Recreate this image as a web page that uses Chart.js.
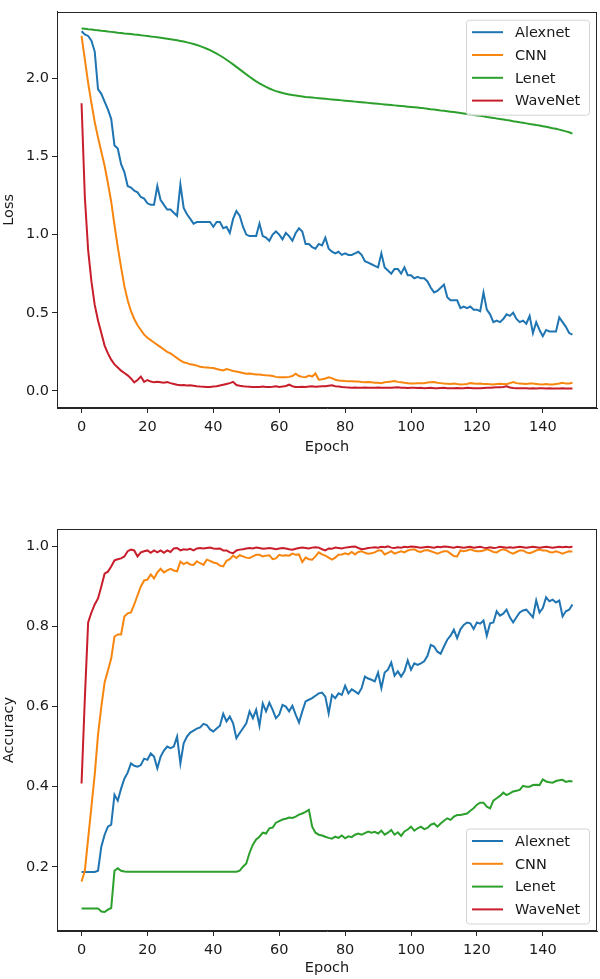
<!DOCTYPE html>
<html>
<head>
<meta charset="utf-8">
<script src="https://cdn.jsdelivr.net/npm/chart.js@4.4.1/dist/chart.umd.min.js"></script>
<style>
  body { margin: 0; background: #fff; }
  #wrap { position: relative; width: 600px; height: 979px; }
  canvas { position: absolute; left: 0; }
  #lossChart { top: 0; }
  #accChart { top: 470px; }
</style>
</head>
<body>
<div id="wrap">
  <canvas id="lossChart" width="600" height="470"></canvas>
  <canvas id="accChart" width="600" height="509"></canvas>
</div>
<script>
const modelNames = ['Alexnet', 'CNN', 'Lenet', 'WaveNet'];
const modelColors = ['#1f74b2', '#f8860e', '#2ca02c', '#c81d2b'];
const epochs = Array.from({ length: 150 }, (_, i) => i);
const epochTicks = [0, 20, 40, 60, 80, 100, 120, 140];
const lossTicks = [0.0, 0.5, 1.0, 1.5, 2.0];
const accTicks = [0.2, 0.4, 0.6, 0.8, 1.0];

const lossAlexnet = [
  2.30, 2.28, 2.27, 2.24, 2.17, 1.93, 1.90, 1.85, 1.80, 1.74,
  1.57, 1.55, 1.45, 1.40, 1.31, 1.30, 1.28, 1.27, 1.24, 1.23,
  1.20, 1.19, 1.19, 1.31, 1.22, 1.19, 1.16, 1.16, 1.14, 1.12,
  1.32, 1.17, 1.13, 1.10, 1.07, 1.08, 1.08, 1.08, 1.08, 1.08,
  1.05, 1.08, 1.08, 1.04, 1.05, 1.01, 1.10, 1.15, 1.12, 1.05,
  1.00, 0.99, 0.99, 0.99, 1.07, 0.99, 0.98, 0.96, 1.00, 1.02,
  1.00, 0.97, 1.01, 0.99, 0.96, 1.01, 1.04, 1.02, 0.94, 0.94,
  0.92, 0.91, 0.94, 0.93, 0.98, 0.91, 0.89, 0.88, 0.89, 0.87,
  0.88, 0.87, 0.87, 0.88, 0.89, 0.87, 0.83, 0.82, 0.81, 0.80,
  0.79, 0.88, 0.79, 0.77, 0.75, 0.78, 0.78, 0.75, 0.79, 0.74,
  0.74, 0.72, 0.73, 0.72, 0.72, 0.70, 0.66, 0.63, 0.64, 0.66,
  0.68, 0.60, 0.58, 0.58, 0.58, 0.53, 0.54, 0.53, 0.54, 0.52,
  0.52, 0.51, 0.63, 0.52, 0.49, 0.44, 0.45, 0.44, 0.46, 0.49,
  0.48, 0.50, 0.46, 0.44, 0.45, 0.43, 0.48, 0.37, 0.44, 0.39,
  0.35, 0.39, 0.38, 0.38, 0.38, 0.47, 0.44, 0.41, 0.37, 0.36
];
const lossCnn = [
  2.27, 2.12, 1.97, 1.84, 1.72, 1.62, 1.53, 1.44, 1.33, 1.21,
  1.06, 0.92, 0.79, 0.67, 0.58, 0.51, 0.46, 0.42, 0.39, 0.36,
  0.34, 0.325, 0.31, 0.295, 0.28, 0.265, 0.25, 0.24, 0.225, 0.21,
  0.195, 0.183, 0.178, 0.17, 0.168, 0.162, 0.155, 0.152, 0.15, 0.148,
  0.147, 0.14, 0.135, 0.131, 0.14, 0.135, 0.128, 0.125, 0.12, 0.115,
  0.11, 0.112, 0.108, 0.105, 0.105, 0.102, 0.1, 0.099, 0.095, 0.09,
  0.088, 0.087, 0.088, 0.09, 0.095, 0.11, 0.095, 0.09, 0.088, 0.098,
  0.092, 0.112, 0.072, 0.075, 0.08, 0.088, 0.082, 0.072, 0.067, 0.065,
  0.063, 0.062, 0.062, 0.06, 0.061, 0.058, 0.056, 0.057, 0.055, 0.053,
  0.053, 0.05, 0.055, 0.058, 0.06, 0.063, 0.058, 0.055, 0.052, 0.05,
  0.048, 0.047, 0.05, 0.049, 0.05, 0.054, 0.056, 0.057, 0.053, 0.05,
  0.047, 0.046, 0.045, 0.047, 0.044, 0.042, 0.043, 0.045, 0.05, 0.048,
  0.046, 0.047, 0.045, 0.044, 0.043, 0.042, 0.044, 0.046, 0.045, 0.043,
  0.05, 0.057, 0.05, 0.048, 0.046, 0.044, 0.047, 0.047, 0.045, 0.043,
  0.042, 0.044, 0.042, 0.042, 0.045, 0.048, 0.053, 0.047, 0.048, 0.052
];
const lossLenet = [
  2.318, 2.316, 2.313, 2.311, 2.308, 2.306, 2.303, 2.301, 2.298, 2.296,
  2.294, 2.291, 2.289, 2.286, 2.284, 2.282, 2.279, 2.277, 2.274, 2.272,
  2.269, 2.266, 2.264, 2.261, 2.258, 2.255, 2.252, 2.249, 2.246, 2.242,
  2.238, 2.234, 2.229, 2.224, 2.218, 2.212, 2.205, 2.197, 2.188, 2.179,
  2.168, 2.157, 2.145, 2.132, 2.118, 2.103, 2.088, 2.072, 2.056, 2.040,
  2.024, 2.009, 1.994, 1.980, 1.967, 1.955, 1.944, 1.934, 1.925, 1.917,
  1.911, 1.905, 1.900, 1.896, 1.892, 1.889, 1.886, 1.883, 1.880, 1.878,
  1.876, 1.874, 1.872, 1.870, 1.868, 1.866, 1.864, 1.862, 1.860, 1.858,
  1.856, 1.854, 1.852, 1.850, 1.848, 1.846, 1.844, 1.842, 1.840, 1.838,
  1.836, 1.834, 1.832, 1.830, 1.828, 1.826, 1.824, 1.822, 1.820, 1.818,
  1.816, 1.814, 1.812, 1.810, 1.807, 1.805, 1.802, 1.800, 1.797, 1.794,
  1.792, 1.789, 1.786, 1.783, 1.780, 1.777, 1.774, 1.771, 1.768, 1.765,
  1.762, 1.759, 1.756, 1.752, 1.749, 1.746, 1.742, 1.739, 1.736, 1.732,
  1.729, 1.725, 1.722, 1.718, 1.715, 1.711, 1.707, 1.704, 1.700, 1.697,
  1.693, 1.689, 1.685, 1.680, 1.676, 1.671, 1.666, 1.660, 1.654, 1.645
];
const lossWaveNet = [
  1.84, 1.24, 0.90, 0.70, 0.55, 0.45, 0.37, 0.29, 0.24, 0.20,
  0.17, 0.15, 0.13, 0.115, 0.10, 0.08, 0.055, 0.07, 0.092, 0.058,
  0.07, 0.06, 0.055, 0.058, 0.055, 0.052, 0.057, 0.05, 0.045, 0.04,
  0.036, 0.038, 0.035, 0.036, 0.033, 0.03, 0.028, 0.027, 0.025, 0.025,
  0.028, 0.03, 0.035, 0.04, 0.045, 0.05, 0.058, 0.038, 0.033, 0.03,
  0.028, 0.027, 0.025, 0.026, 0.025, 0.028, 0.026, 0.025, 0.027, 0.03,
  0.026, 0.028, 0.032, 0.04, 0.03, 0.025, 0.025, 0.027, 0.026, 0.028,
  0.03, 0.027, 0.029, 0.03, 0.03, 0.033, 0.036, 0.03, 0.028, 0.025,
  0.023, 0.022, 0.021, 0.022, 0.021, 0.02, 0.022, 0.021, 0.02, 0.021,
  0.022, 0.02, 0.021, 0.02, 0.021, 0.022, 0.023, 0.021, 0.02, 0.019,
  0.021, 0.02, 0.019, 0.02, 0.018, 0.019, 0.02, 0.018, 0.017, 0.019,
  0.02, 0.018, 0.017, 0.018, 0.019, 0.017, 0.018, 0.02, 0.019, 0.018,
  0.017, 0.018, 0.019, 0.02, 0.021, 0.022, 0.023, 0.024, 0.026, 0.03,
  0.022, 0.019, 0.018, 0.017, 0.018, 0.017, 0.016, 0.017, 0.016, 0.018,
  0.017, 0.016, 0.017, 0.016, 0.015, 0.016, 0.017, 0.016, 0.015, 0.015
];

const accAlexnet = [
  0.187, 0.187, 0.187, 0.187, 0.187, 0.19, 0.25, 0.28, 0.30, 0.305,
  0.38, 0.365, 0.395, 0.42, 0.435, 0.458, 0.452, 0.45, 0.454, 0.47,
  0.467, 0.483, 0.475, 0.446, 0.475, 0.49, 0.50, 0.496, 0.50, 0.525,
  0.458, 0.508, 0.525, 0.535, 0.54, 0.545, 0.548, 0.557, 0.554, 0.543,
  0.538, 0.545, 0.552, 0.582, 0.563, 0.575, 0.558, 0.521, 0.534, 0.546,
  0.558, 0.588, 0.571, 0.592, 0.552, 0.608, 0.588, 0.61, 0.592, 0.571,
  0.58, 0.604, 0.60, 0.588, 0.602, 0.58, 0.56, 0.588, 0.613, 0.617,
  0.621, 0.627, 0.633, 0.635, 0.625, 0.583, 0.629, 0.621, 0.633, 0.629,
  0.652, 0.633, 0.643, 0.638, 0.632, 0.646, 0.675, 0.67, 0.667, 0.663,
  0.685, 0.646, 0.685, 0.692, 0.71, 0.677, 0.688, 0.675, 0.688, 0.715,
  0.692, 0.708, 0.704, 0.708, 0.713, 0.727, 0.754, 0.75, 0.737, 0.732,
  0.75, 0.767, 0.777, 0.792, 0.771, 0.793, 0.804, 0.81, 0.808, 0.794,
  0.81, 0.807, 0.815, 0.777, 0.808, 0.81, 0.838, 0.827, 0.832, 0.842,
  0.823, 0.81, 0.823, 0.835, 0.84, 0.842, 0.833, 0.823, 0.865, 0.835,
  0.846, 0.873, 0.863, 0.867, 0.86, 0.865, 0.825, 0.838, 0.842, 0.855
];
const accCnn = [
  0.163, 0.19, 0.27, 0.35, 0.43, 0.53, 0.60, 0.66, 0.69, 0.72,
  0.775, 0.78, 0.78, 0.825, 0.833, 0.835, 0.855, 0.878, 0.90, 0.915,
  0.917, 0.93, 0.92, 0.935, 0.944, 0.935, 0.94, 0.944, 0.94, 0.938,
  0.962, 0.956, 0.96, 0.955, 0.954, 0.963, 0.958, 0.954, 0.967, 0.964,
  0.96, 0.958, 0.952, 0.95, 0.964, 0.968, 0.977, 0.971, 0.978, 0.975,
  0.972, 0.971, 0.975, 0.979, 0.979, 0.975, 0.977, 0.978, 0.968, 0.97,
  0.979, 0.977, 0.978, 0.977, 0.982, 0.979, 0.98, 0.961, 0.972, 0.968,
  0.967, 0.975, 0.985, 0.98, 0.977, 0.972, 0.967, 0.972, 0.979, 0.98,
  0.983, 0.98, 0.986, 0.98, 0.986, 0.988, 0.984, 0.982, 0.983, 0.985,
  0.99, 0.99, 0.98, 0.984, 0.988, 0.982, 0.985, 0.988, 0.985, 0.99,
  0.992, 0.993, 0.988, 0.986, 0.99, 0.991, 0.988, 0.985, 0.982, 0.985,
  0.988, 0.988, 0.982, 0.976, 0.975, 0.99, 0.988, 0.99, 0.993, 0.99,
  0.988, 0.988, 0.99, 0.993, 0.99, 0.986, 0.985, 0.99, 0.993, 0.99,
  0.985, 0.982, 0.986, 0.99, 0.99, 0.985, 0.983, 0.986, 0.99, 0.992,
  0.99, 0.99, 0.986, 0.985, 0.988, 0.985, 0.982, 0.985, 0.988, 0.987
];
const accLenet = [
  0.096, 0.096, 0.096, 0.096, 0.096, 0.096, 0.088, 0.087, 0.093, 0.097,
  0.19, 0.196, 0.19, 0.188, 0.1875, 0.1875, 0.1875, 0.1875, 0.1875, 0.1875,
  0.1875, 0.1875, 0.1875, 0.1875, 0.1875, 0.1875, 0.1875, 0.1875, 0.1875, 0.1875,
  0.1875, 0.1875, 0.1875, 0.1875, 0.1875, 0.1875, 0.1875, 0.1875, 0.1875, 0.1875,
  0.1875, 0.1875, 0.1875, 0.1875, 0.1875, 0.1875, 0.1875, 0.1875, 0.19, 0.20,
  0.208, 0.235, 0.255, 0.268, 0.275, 0.285, 0.283, 0.296, 0.298, 0.31,
  0.314, 0.318, 0.32, 0.323, 0.322, 0.325, 0.33, 0.333, 0.337, 0.342,
  0.30, 0.285, 0.28, 0.278, 0.275, 0.272, 0.27, 0.275, 0.272, 0.278,
  0.271, 0.276, 0.274, 0.28, 0.283, 0.28, 0.284, 0.288, 0.285, 0.287,
  0.283, 0.29, 0.28, 0.285, 0.292, 0.28, 0.286, 0.277, 0.288, 0.293,
  0.30, 0.29, 0.296, 0.30, 0.294, 0.297, 0.305, 0.308, 0.30, 0.308,
  0.315, 0.321, 0.317, 0.325, 0.329, 0.329, 0.331, 0.333, 0.34, 0.346,
  0.355, 0.36, 0.36, 0.35, 0.346, 0.365, 0.371, 0.377, 0.385, 0.379,
  0.383, 0.388, 0.39, 0.392, 0.402, 0.40, 0.40, 0.404, 0.405, 0.404,
  0.418, 0.413, 0.411, 0.41, 0.414, 0.416, 0.417, 0.412, 0.414, 0.413
];
const accWaveNet = [
  0.408, 0.62, 0.81, 0.835, 0.855, 0.87, 0.90, 0.932, 0.937, 0.95,
  0.965, 0.968, 0.97, 0.975, 0.988, 0.992, 0.99, 0.975, 0.985, 0.988,
  0.99, 0.984, 0.99, 0.985, 0.99, 0.984, 0.99, 0.986, 0.995, 0.996,
  0.99, 0.993, 0.992, 0.994, 0.99, 0.995, 0.996, 0.995, 0.996, 0.997,
  0.995, 0.994, 0.995, 0.99, 0.99, 0.985, 0.983, 0.99, 0.992, 0.993,
  0.995, 0.996, 0.995, 0.997, 0.996, 0.994, 0.995, 0.996, 0.995, 0.993,
  0.995, 0.996, 0.995, 0.993, 0.992, 0.994, 0.996, 0.997, 0.996, 0.995,
  0.997, 0.998, 0.997, 0.993, 0.99, 0.995, 0.994, 0.997, 0.996, 0.995,
  0.997, 0.998, 0.999, 1.0, 0.996, 0.993, 0.994, 0.996, 0.997, 0.998,
  0.997, 0.999, 0.998, 1.0, 0.997, 0.996, 0.998, 0.997, 0.999, 0.998,
  1.0, 0.999, 0.998, 0.997, 0.998, 0.999, 0.998, 0.997, 0.999, 0.998,
  1.0, 0.999, 0.998, 0.997, 0.999, 0.998, 0.997, 0.998, 0.999, 0.997,
  0.998, 0.999, 0.997, 0.996, 0.998, 0.996, 0.997, 0.999, 0.998, 0.997,
  0.998, 0.997, 0.998, 0.999, 0.998, 0.997, 0.998, 0.999, 0.998, 0.997,
  0.998, 0.999, 0.998, 0.997, 0.998, 0.999, 0.998, 0.999, 0.998, 0.999
];

const FONT = 'DejaVu Sans';
const INK = '#1a1a1a';

// matplotlib style box around the axes
const framePlugin = {
  id: 'frame',
  afterDatasetsDraw(chart) {
    const { ctx, chartArea: a } = chart;
    ctx.save();
    ctx.strokeStyle = '#262626';
    ctx.lineWidth = 1;
    ctx.strokeRect(Math.round(a.left) + 0.5, Math.round(a.top) + 0.5,
      Math.round(a.right - a.left) - 1, Math.round(a.bottom - a.top) - 1);
    ctx.restore();
  }
};

// legend box drawn inside the plot, top-right or bottom-right
const boxLegend = {
  id: 'boxLegend',
  afterDraw(chart, args, opts) {
    const { ctx, chartArea: a } = chart;
    const w = 123, h = 95;
    const x0 = a.right - 8 - w;
    const y0 = opts.corner === 'bottom' ? a.bottom - 7.5 - h : a.top + 8;
    ctx.save();
    ctx.beginPath();
    ctx.roundRect(x0 + 0.5, y0 + 0.5, w, h, 3);
    ctx.fillStyle = 'rgba(255,255,255,0.8)';
    ctx.fill();
    ctx.strokeStyle = '#d4d4d4';
    ctx.lineWidth = 1;
    ctx.stroke();
    ctx.font = '14.5px "' + FONT + '"';
    ctx.textBaseline = 'middle';
    ctx.fillStyle = INK;
    chart.data.datasets.forEach((ds, i) => {
      const y = y0 + 12.5 + i * 22.8;
      ctx.beginPath();
      ctx.moveTo(x0 + 6, y);
      ctx.lineTo(x0 + 37, y);
      ctx.strokeStyle = ds.borderColor;
      ctx.lineWidth = 2;
      ctx.stroke();
      ctx.fillText(ds.label, x0 + 49, y + 1);
    });
    ctx.restore();
  }
};

function makeDatasets(series) {
  return series.map((values, i) => ({
    label: modelNames[i],
    data: values,
    borderColor: modelColors[i],
    backgroundColor: modelColors[i],
    borderWidth: 2,
    pointRadius: 0,
    tension: 0,
    order: series.length - i
  }));
}

function axisCommon(extra) {
  return Object.assign({
    type: 'linear',
    grid: { display: true, drawOnChartArea: false, drawTicks: true, tickLength: 5, color: '#262626' },
    border: { display: true, color: '#262626', width: 1 }
  }, extra);
}

function makeChart(canvasId, series, yTicks, yMin, yMax, yTitle, cfg) {
  const ctx = document.getElementById(canvasId).getContext('2d');
  return new Chart(ctx, {
    type: 'line',
    data: { labels: epochs, datasets: makeDatasets(series) },
    options: {
      responsive: false,
      animation: false,
      devicePixelRatio: 1,
      layout: { padding: { left: 0, right: 3, top: cfg.top, bottom: 0 } },
      plugins: {
        legend: { display: false },
        tooltip: { enabled: false },
        boxLegend: { corner: cfg.legend }
      },
      scales: {
        x: axisCommon({
          min: -7.45,
          max: 156.45,
          afterBuildTicks: s => { s.ticks = epochTicks.map(v => ({ value: v })); },
          afterFit: s => { s.height = cfg.xHeight; },
          ticks: { color: INK, font: { family: FONT, size: 14.5 }, padding: 6 },
          title: { display: true, text: 'Epoch', color: INK, font: { family: FONT, size: 14.5 },
            padding: { top: 0, bottom: cfg.titlePad } }
        }),
        y: axisCommon({
          min: yMin,
          max: yMax,
          afterBuildTicks: s => { s.ticks = yTicks.map(v => ({ value: v })); },
          afterFit: s => { s.width = 57; },
          ticks: { color: INK, font: { family: FONT, size: 14.5 }, padding: 3,
            callback: v => Number(v).toFixed(1) },
          title: { display: true, text: yTitle, color: INK, font: { family: FONT, size: 14.5 },
            padding: { top: 1, bottom: 0 } }
        })
      }
    },
    plugins: [framePlugin, boxLegend]
  });
}

makeChart('lossChart', [lossAlexnet, lossCnn, lossLenet, lossWaveNet], lossTicks,
  -0.109, 2.425, 'Loss', { top: 7, xHeight: 62, titlePad: 14, legend: 'top' });

makeChart('accChart', [accAlexnet, accCnn, accLenet, accWaveNet], accTicks,
  0.0395, 1.0435, 'Accuracy', { top: 59, xHeight: 48, titlePad: 2, legend: 'bottom' });
</script>
</body>
</html>
